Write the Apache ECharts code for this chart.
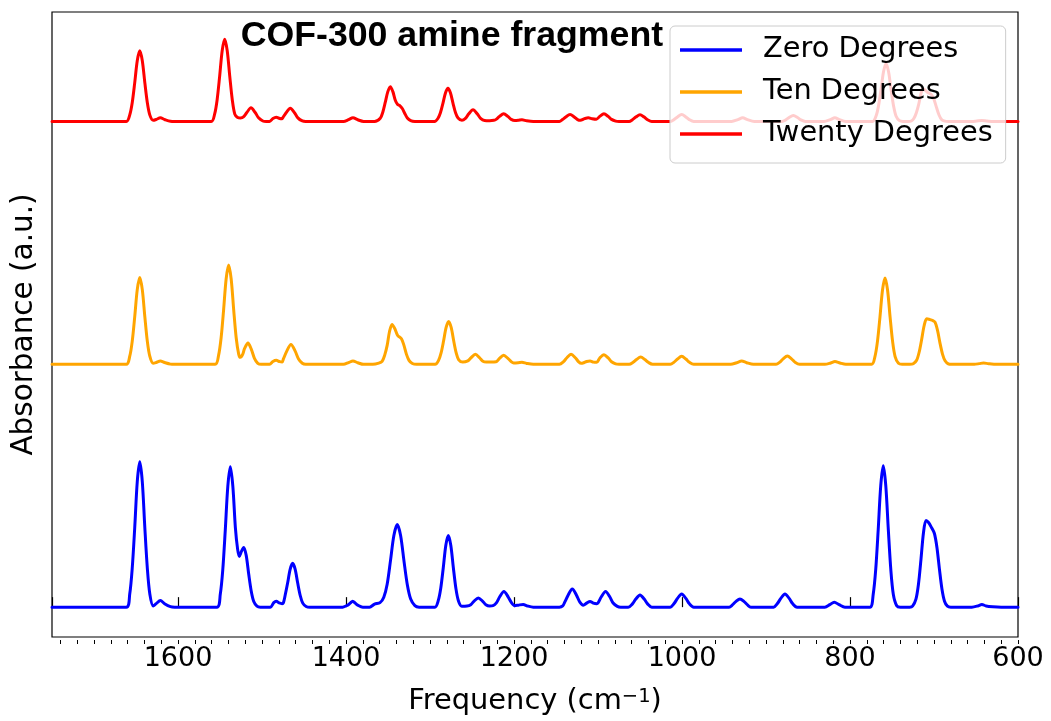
<!DOCTYPE html>
<html>
<head>
<meta charset="utf-8">
<script src="https://cdn.jsdelivr.net/npm/echarts@6/dist/echarts.min.js"></script>
<style>
html,body{margin:0;padding:0;background:#fff;}
#chart{width:1051px;height:721px;}
</style>
</head>
<body>
<div id="chart"></div>
<script>
// ---- data (frequency in cm^-1, absorbance in a.u.) ----
const seriesNames = ['Zero Degrees', 'Ten Degrees', 'Twenty Degrees'];
const seriesColors = ['#0000ff', '#ffa500', '#ff0000'];
const offsets = [0, 2.44, 4.88];
const xTicks = [1600, 1400, 1200, 1000, 800, 600];
const titleText = 'COF-300 amine fragment';

const zeroDeg = [
[1750,0],
[1661.5,0],[1657.5,0.13],[1654.5,0.39],[1651.5,0.80],[1648.5,1.26],[1645.5,1.46],[1642.5,1.26],[1639.5,0.80],[1636.5,0.39],[1633.5,0.13],[1629.5,0.012],[1626,0.035],[1621,0.067],[1616,0.035],[1609,0.005],[1604,0],
[1553.7,0],[1549.7,0.127],[1546.7,0.374],[1543.7,0.776],[1540.7,1.213],[1537.7,1.41],[1534.7,1.213],[1531.7,0.80],[1529,0.58],[1527,0.51],[1524.5,0.56],[1521.8,0.60],[1518.8,0.52],[1515.8,0.33],[1512.8,0.16],[1509.8,0.056],[1506,0.01],[1502,0],
[1490,0],[1486,0.045],[1483,0.06],[1479.5,0.042],[1476,0.035],[1474.5,0.045],[1472.5,0.117],[1469.5,0.242],[1466.5,0.38],[1463.5,0.44],[1460.5,0.38],[1457.5,0.242],[1454.5,0.117],[1451.5,0.04],[1447.5,0.007],[1443,0],
[1404,0],[1398,0.02],[1395,0.04],[1392,0.06],[1389,0.04],[1386,0.02],[1380,0],
[1372,0],[1366,0.03],[1359.5,0.045],[1355,0.10],[1351,0.23],[1347,0.47],[1343,0.72],[1339,0.83],[1335,0.72],[1331,0.465],[1327,0.225],[1323,0.081],[1318,0.015],[1313,0],
[1294.2,0],[1290.2,0.065],[1287.2,0.19],[1284.2,0.396],[1281.2,0.62],[1278.2,0.72],[1275.2,0.62],[1272.2,0.396],[1269.2,0.19],[1266.2,0.065],[1262.2,0.01],
[1256,0.012],[1251.5,0.025],[1247.5,0.061],[1242.5,0.093],[1237.5,0.061],[1233.5,0.025],[1229,0.012],[1225,0.015],[1221,0.042],[1217,0.104],[1212,0.157],[1207,0.104],[1203,0.045],[1199,0.015],[1195,0.02],[1189,0.027],[1184,0.012],[1177,0],
[1146,0],[1142,0.012],[1139.6,0.05],[1135.6,0.12],[1130.6,0.183],[1125.6,0.12],[1121.6,0.05],[1117.5,0.02],[1113.5,0.04],[1109.5,0.057],[1105.5,0.04],[1101.5,0.035],[1100,0.042],[1096,0.104],[1091,0.157],[1086,0.104],[1082,0.042],[1077,0.008],[1073,0],
[1064,0],[1059,0.033],[1055,0.081],[1050,0.123],[1045,0.081],[1041,0.033],[1036,0],
[1014,0],[1009.4,0.036],[1005.4,0.088],[1000.4,0.133],[995.4,0.088],[991.4,0.036],[986,0],
[944,0],[940,0.022],[936,0.055],[931,0.083],[926,0.055],[922,0.022],[918,0],
[891,0],[886.4,0.036],[882.4,0.088],[877.4,0.133],[872.4,0.088],[868.4,0.036],[863,0],
[830,0],[824,0.025],[818.7,0.05],[813,0.025],[806,0],
[776.4,0],[772.4,0.128],[769.4,0.376],[766.4,0.781],[763.4,1.221],[760.4,1.42],[757.4,1.221],[754.4,0.781],[751.4,0.376],[748.4,0.128],[744.4,0.015],[740,0],
[729,0],[725.5,0.01],[721.5,0.08],[718.5,0.23],[715.5,0.48],[712.5,0.75],[709.5,0.87],[706.5,0.85],[703,0.80],[699.5,0.74],[696.5,0.60],[693.5,0.38],[690.5,0.18],[687.5,0.06],[684,0.01],[680,0],
[655,0],[648,0.012],[643,0.027],[638,0.012],[630,0.004],[620,0],[600,0]
];

const tenDeg = [
[1750,0],
[1661.5,0],[1657.5,0.079],[1654.5,0.231],[1651.5,0.48],[1648.5,0.751],[1645.5,0.873],[1642.5,0.751],[1639.5,0.48],[1636.5,0.231],[1633.5,0.079],[1629.5,0.01],[1626,0.018],[1621,0.033],[1616,0.018],[1609,0.002],[1604,0],
[1555.7,0],[1551.7,0.09],[1548.7,0.264],[1545.7,0.548],[1542.7,0.857],[1539.7,0.997],[1536.7,0.857],[1533.7,0.548],[1530.7,0.264],[1527.7,0.1],[1525.8,0.07],[1523,0.1],[1520.7,0.16],[1516.7,0.213],[1512.7,0.15],[1509,0.06],[1505,0.01],[1501,0],
[1491,0],[1487,0.028],[1483,0.04],[1479,0.027],[1476,0.023],[1474.5,0.054],[1470.5,0.132],[1465.5,0.20],[1460.5,0.132],[1456.5,0.054],[1452,0.01],[1448,0],
[1403,0],[1397,0.017],[1391.7,0.033],[1386,0.016],[1379,0],
[1368,0],[1361,0.012],[1357,0.03],[1354,0.09],[1351,0.19],[1348.2,0.33],[1345.2,0.40],[1342,0.36],[1338.5,0.29],[1334,0.257],[1331,0.19],[1328,0.10],[1325,0.04],[1321,0.008],[1316,0],
[1293.8,0],[1289.8,0.039],[1286.8,0.114],[1283.8,0.236],[1280.8,0.37],[1277.8,0.43],[1274.8,0.37],[1271.8,0.236],[1268.8,0.114],[1265.8,0.045],[1261,0.022],
[1255,0.035],[1251,0.068],[1246,0.10],[1241,0.066],[1237,0.03],[1233,0.022],[1228,0.022],[1221.3,0.025],[1217.3,0.06],[1212.3,0.09],[1207.3,0.06],[1203,0.025],[1200.4,0.014],[1195,0.016],[1190.5,0.02],[1185,0.009],[1177,0],
[1146,0],[1141,0.027],[1137,0.066],[1132.1,0.10],[1127,0.066],[1123,0.025],[1120,0.01],[1117,0.016],[1113.5,0.028],[1109.5,0.033],[1105.5,0.022],[1101.6,0.02],[1097.9,0.064],[1092.9,0.097],[1087.9,0.064],[1083.9,0.026],[1079,0.004],[1075,0],
[1063,0],[1058.2,0.02],[1054.2,0.048],[1049.2,0.073],[1044.2,0.048],[1040.2,0.02],[1035,0],
[1014,0],[1009.4,0.022],[1005.4,0.053],[1000.4,0.08],[995.4,0.053],[991.4,0.022],[986,0],
[942,0],[935,0.016],[929,0.033],[923,0.016],[915,0],
[888,0],[883.6,0.022],[879.6,0.055],[874.6,0.083],[869.6,0.055],[865.6,0.022],[860,0],
[830,0],[823,0.013],[817.9,0.027],[812,0.013],[805,0],
[774.3,0],[770.3,0.078],[767.3,0.23],[764.3,0.477],[761.3,0.746],[758.3,0.867],[755.3,0.746],[752.3,0.477],[749.3,0.23],[746.3,0.078],[742.3,0.01],[738,0],
[729,0],[724.7,0.006],[720.7,0.041],[717.7,0.121],[714.7,0.25],[711.7,0.39],[708.7,0.457],[705,0.45],[701.5,0.44],[698.8,0.423],[695.8,0.34],[692.8,0.21],[689.8,0.1],[686.8,0.035],[683,0.005],[679,0],
[652,0],[646,0.007],[641,0.013],[635,0.006],[625,0],[600,0]
];

const twentyDeg = [
[1750,0],
[1661.5,0],[1657.5,0.064],[1654.5,0.188],[1651.5,0.39],[1648.5,0.61],[1645.5,0.71],[1642.5,0.61],[1639.5,0.39],[1636.5,0.188],[1633.5,0.064],[1629.5,0.012],[1626,0.02],[1621,0.037],[1616,0.02],[1609,0.002],[1604,0],
[1560.4,0],[1556.4,0.074],[1553.4,0.219],[1550.4,0.455],[1547.4,0.711],[1544.4,0.827],[1541.4,0.711],[1538.4,0.455],[1535.4,0.219],[1532.4,0.074],[1529,0.04],[1525.5,0.035],[1522.1,0.045],[1518.1,0.09],[1513.1,0.137],[1508.1,0.09],[1504.1,0.037],[1499,0.005],[1495,0],
[1491,0],[1487,0.03],[1483,0.043],[1479,0.03],[1476,0.028],[1475.3,0.036],[1471.3,0.088],[1466.3,0.133],[1461.3,0.088],[1457.3,0.036],[1452,0.005],[1448,0],
[1403,0],[1397,0.018],[1391.7,0.037],[1386,0.017],[1379,0],
[1366,0],[1359.2,0.033],[1356.2,0.093],[1353.2,0.194],[1350.2,0.30],[1347.2,0.35],[1344.2,0.30],[1341.2,0.21],[1338.5,0.17],[1336,0.16],[1333,0.13],[1330,0.08],[1327,0.035],[1323,0.008],[1318,0],
[1294.6,0],[1290.6,0.03],[1287.6,0.088],[1284.6,0.183],[1281.6,0.287],[1278.6,0.333],[1275.6,0.287],[1272.6,0.183],[1269.6,0.088],[1266.6,0.035],[1262,0.012],
[1257.8,0.032],[1253.8,0.077],[1248.8,0.117],[1243.8,0.077],[1239.8,0.032],[1235,0.01],[1229,0.008],[1224,0.012],[1221.3,0.021],[1217.3,0.051],[1212.3,0.077],[1207.3,0.051],[1203.3,0.021],[1199,0.01],[1195,0.012],[1190.5,0.017],[1185,0.007],[1177,0],
[1146,0],[1142.3,0.019],[1138.3,0.046],[1133.3,0.07],[1128.3,0.046],[1124.3,0.019],[1121,0.012],[1116,0.028],[1111.5,0.037],[1107,0.027],[1102,0.022],[1097.9,0.051],[1092.9,0.077],[1087.9,0.051],[1083.9,0.021],[1079,0.004],[1075,0],
[1063,0],[1059,0.018],[1055,0.044],[1050,0.067],[1045,0.044],[1041,0.018],[1036,0],
[1014,0],[1009.4,0.019],[1005.4,0.046],[1000.4,0.07],[995.4,0.046],[991.4,0.019],[986,0],
[941,0],[933.5,0.018],[927.8,0.037],[922,0.018],[914,0],
[881,0],[876.5,0.016],[872.5,0.04],[867.5,0.06],[862.5,0.04],[858.5,0.016],[853,0],
[831,0],[823.5,0.018],[818,0.037],[812.5,0.018],[805,0],
[773.1,0],[769.1,0.052],[766.1,0.154],[763.1,0.32],[760.1,0.50],[757.1,0.58],[754.1,0.50],[751.1,0.32],[748.1,0.154],[745.1,0.052],[741.1,0.008],[737,0],
[731,0],[727,0.005],[724,0.03],[721,0.088],[718,0.18],[715.5,0.28],[713,0.33],[710,0.31],[706.5,0.285],[703,0.27],[700,0.22],[697,0.14],[694,0.065],[691,0.02],[687,0.003],[683,0],
[655,0],[649,0.005],[643,0.01],[637,0.005],[630,0],[600,0]
];

const spectra = [zeroDeg, tenDeg, twentyDeg];

// ---- chart ----
const chart = echarts.init(document.getElementById('chart'), null, {renderer: 'canvas'});
const FONT = '"DejaVu Sans", Verdana, sans-serif';

const series = spectra.map((arr, i) => ({
  name: seriesNames[i],
  type: 'line',
  xAxisIndex: 0,
  yAxisIndex: 0,
  data: arr.map(p => [p[0], p[1] + offsets[i]]),
  showSymbol: false,
  symbol: 'none',
  smooth: 0.3,
  lineStyle: {width: 3, color: seriesColors[i], cap: 'round', join: 'round'},
  itemStyle: {color: seriesColors[i]},
  emphasis: {disabled: true},
  z: 2
}));

const option = {
  animation: false,
  backgroundColor: '#ffffff',
  grid: [
    {left: 52, right: 33, top: 12, bottom: 81, show: true, borderColor: '#000', borderWidth: 1.2, backgroundColor: 'transparent'},
    {left: 60.4, right: 33, top: 12, bottom: 81, show: false}
  ],
  xAxis: [
    {
      type: 'value', gridIndex: 0, min: 600, max: 1750, interval: 200, inverse: true,
      axisLine: {show: false},
      axisTick: {show: true, inside: true, length: 10, lineStyle: {color: '#000', width: 1.2}},
      axisLabel: {
        show: true, margin: 8, color: '#000', fontSize: 27, fontFamily: FONT,
        formatter: v => (xTicks.indexOf(v) >= 0 ? String(v) : '')
      },
      splitLine: {show: false},
      name: 'Frequency (cm{sup|\u22121})',
      nameLocation: 'middle', nameGap: 50,
      nameTextStyle: {
        color: '#000', fontSize: 28.9, fontFamily: FONT,
        rich: {sup: {fontSize: 19.5, lineHeight: 13, verticalAlign: 'top', color: '#000', fontFamily: FONT}}
      }
    },
    {
      type: 'value', gridIndex: 1, min: 600, max: 1740, interval: 20, inverse: true,
      axisLine: {show: false},
      axisTick: {show: true, inside: false, length: 4, lineStyle: {color: '#000', width: 1}},
      axisLabel: {show: false},
      splitLine: {show: false}
    }
  ],
  yAxis: [
    {
      type: 'value', gridIndex: 0, min: -0.30, max: 5.98,
      axisLine: {show: false}, axisTick: {show: false}, axisLabel: {show: false}, splitLine: {show: false},
      name: 'Absorbance (a.u.)', nameLocation: 'middle', nameGap: 13,
      nameTextStyle: {color: '#000', fontSize: 29.5, fontFamily: FONT}
    },
    {
      type: 'value', gridIndex: 1, min: 0, max: 1, show: false
    }
  ],
  legend: {
    show: true,
    orient: 'vertical',
    left: 670, top: 26,
    padding: [9, 13, 14, 10],
    itemGap: 12,
    itemWidth: 62,
    itemHeight: 3.3,
    icon: 'rect',
    backgroundColor: 'rgba(255,255,255,0.8)',
    borderColor: '#cccccc',
    borderWidth: 1,
    borderRadius: 5,
    selectedMode: false,
    data: seriesNames,
    textStyle: {color: '#000', fontSize: 28.8, fontFamily: FONT, lineHeight: 30, padding: [0, 0, 0, 16]},
    z: 10
  },
  graphic: [
    {
      type: 'text', x: 240.7, y: 36.2, z: 20,
      style: {
        text: titleText,
        font: 'bold 35.7px "Liberation Sans", Arial, sans-serif',
        fill: '#000',
        textVerticalAlign: 'middle',
        verticalAlign: 'middle',
        textAlign: 'left'
      }
    }
  ],
  series: series
};
chart.setOption(option);
</script>
</body>
</html>
